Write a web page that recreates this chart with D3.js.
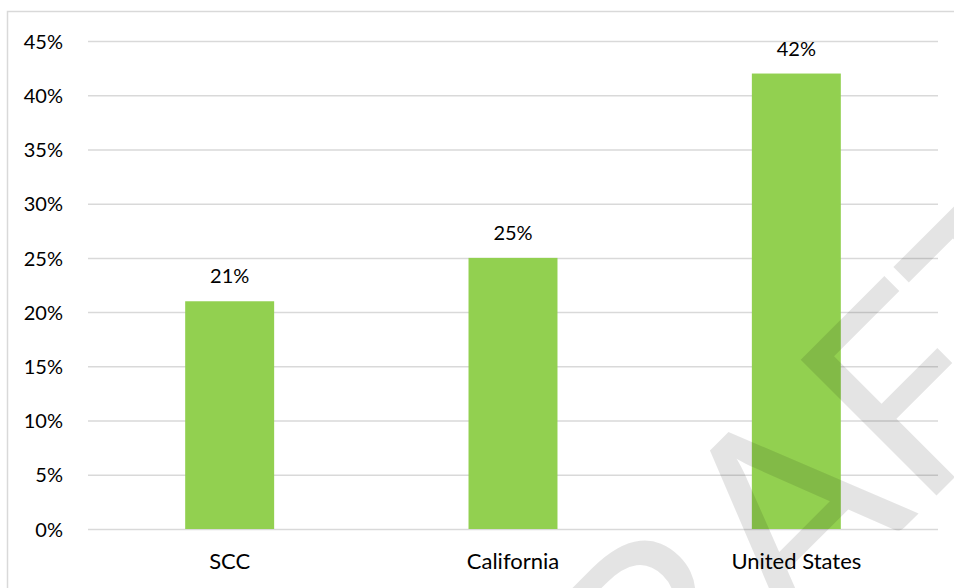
<!DOCTYPE html>
<html>
<head>
<meta charset="utf-8">
<script src="https://cdn.jsdelivr.net/npm/d3@7"></script>
<style>
  html, body { margin: 0; padding: 0; background: #fff; }
  svg { display: block; }
  text { font-family: Lato, "Open Sans", sans-serif; fill: #000; }
</style>
</head>
<body>
<svg id="chart" width="954" height="588"></svg>
<script>
// Share of population, by area
const categories = ["SCC", "California", "United States"];
const values = [21, 25, 42];
const yTicks = [0, 5, 10, 15, 20, 25, 30, 35, 40, 45];
const watermarkText = "DRAFT";

const svg = d3.select("#chart");
const plot = { left: 88, right: 938, top: 41, bottom: 529 };

// outer chart frame (runs past the right and bottom edges)
svg.append("rect")
  .attr("x", 7.5).attr("y", 11.5)
  .attr("width", 1200).attr("height", 1200)
  .attr("fill", "none")
  .attr("stroke", "#d9d9d9")
  .attr("stroke-width", 1.5);

const x = d3.scaleBand()
  .domain(categories)
  .range([plot.left, plot.right])
  .paddingInner(0.686)
  .paddingOuter(0.343);

const y = d3.scaleLinear()
  .domain([0, 45])
  .range([plot.bottom, plot.top]);

// horizontal gridlines + percentage labels
const yAxis = d3.axisLeft(y)
  .tickValues(yTicks)
  .tickSize(-(plot.right - plot.left))
  .tickPadding(25)
  .tickFormat(d => d + "%");

const gy = svg.append("g")
  .attr("transform", `translate(${plot.left},0)`)
  .call(yAxis);
gy.select(".domain").remove();
gy.selectAll(".tick line")
  .attr("stroke", "#d9d9d9")
  .attr("stroke-width", 1.5);
gy.selectAll(".tick text")
  .attr("font-size", 20)
  .attr("fill", "#000")
  .attr("dy", "0.36em");

// bars
svg.append("g")
  .selectAll("rect")
  .data(categories)
  .join("rect")
  .attr("x", d => x(d))
  .attr("y", (d, i) => y(values[i]))
  .attr("width", x.bandwidth())
  .attr("height", (d, i) => y(0) - y(values[i]))
  .attr("fill", "#92d050");

// value labels above bars
svg.append("g")
  .selectAll("text")
  .data(categories)
  .join("text")
  .attr("x", d => x(d) + x.bandwidth() / 2)
  .attr("y", (d, i) => y(values[i]) - 18)
  .attr("text-anchor", "middle")
  .attr("font-size", 20)
  .text((d, i) => values[i] + "%");

// category axis labels
const xAxis = d3.axisBottom(x).tickSize(0).tickPadding(0);
const gx = svg.append("g")
  .attr("transform", `translate(0,${plot.bottom})`)
  .call(xAxis);
gx.select(".domain").remove();
gx.selectAll(".tick text")
  .attr("font-size", 22)
  .attr("fill", "#000")
  .attr("dy", 0)
  .attr("y", 40);

// diagonal watermark, centred on its middle letter
const wm = svg.append("text")
  .attr("transform", "translate(855,577) rotate(-45)")
  .attr("x", 0)
  .attr("font-size", 268)
  .style("fill", "#000")
  .style("fill-opacity", 0.105)
  .text(watermarkText);
const mid = Math.floor(watermarkText.length / 2);
const ext = wm.node().getExtentOfChar(mid);
wm.attr("x", -(ext.x + ext.width / 2));
</script>
</body>
</html>
